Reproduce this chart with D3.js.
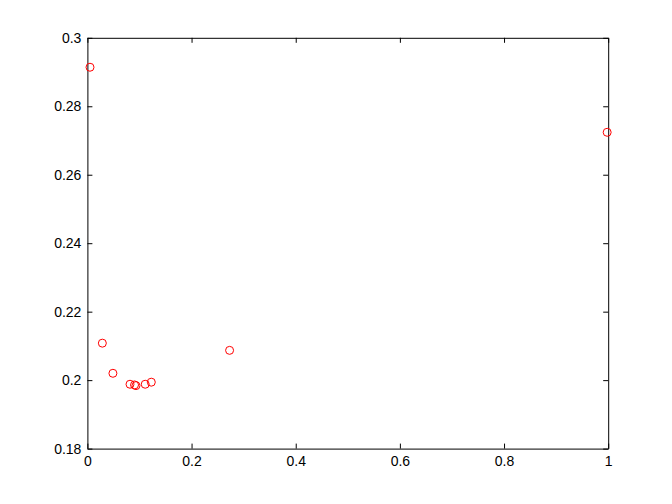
<!DOCTYPE html>
<html><head><meta charset="utf-8">
<script src="https://cdn.jsdelivr.net/npm/d3@7"></script>
<style>body{margin:0;background:#fff}svg{display:block}text{font-family:"Liberation Sans",Arial,sans-serif;font-size:14px}</style>
</head><body><svg id="c" width="672" height="504"></svg>
<script>
const xValues = [0.005, 0.0287, 0.049, 0.0818, 0.0905, 0.0933, 0.111, 0.1227, 0.273, 0.998];
const yValues = [0.2914, 0.2108, 0.2020, 0.1988, 0.1986, 0.1984, 0.1988, 0.1994, 0.2087, 0.2724];
const xTicks = [0, 0.2, 0.4, 0.6, 0.8, 1];
const yTicks = [0.18, 0.2, 0.22, 0.24, 0.26, 0.28, 0.3];
const xTickLabels = ["0", "0.2", "0.4", "0.6", "0.8", "1"];
const yTickLabels = ["0.18", "0.2", "0.22", "0.24", "0.26", "0.28", "0.3"];

const L = 87.4, R = 608.2, T = 37.8, B = 448.6;
const svg = d3.select("#c");
const x = d3.scaleLinear().domain([0, 1]).range([L, R]);
const y = d3.scaleLinear().domain([0.18, 0.3]).range([B, T]);
const tl = 5;

const g = svg.append("g");
g.append("g").attr("transform", `translate(0,${B})`)
  .call(d3.axisBottom(x).tickValues(xTicks).tickFormat((d,i)=>xTickLabels[i]).tickSizeInner(-tl).tickSizeOuter(0).tickPadding(7));
g.append("g").attr("transform", `translate(0,${T})`)
  .call(d3.axisTop(x).tickValues(xTicks).tickFormat("").tickSizeInner(-tl).tickSizeOuter(0));
g.append("g").attr("transform", `translate(${L},0)`)
  .call(d3.axisLeft(y).tickValues(yTicks).tickFormat((d,i)=>yTickLabels[i]).tickSizeInner(-tl).tickSizeOuter(0).tickPadding(6));
g.append("g").attr("transform", `translate(${R},0)`)
  .call(d3.axisRight(y).tickValues(yTicks).tickFormat("").tickSizeInner(-tl).tickSizeOuter(0));
g.selectAll(".domain").attr("stroke", "#000");
g.selectAll(".tick line").attr("stroke", "#000");
g.selectAll(".tick text").attr("fill", "#000").style("font-size", "14px").style("font-family", '"Liberation Sans",Arial,sans-serif');

svg.append("g").selectAll("circle").data(xValues).join("circle")
  .attr("cx", (d) => x(d)).attr("cy", (d, i) => y(yValues[i]))
  .attr("r", 4).attr("fill", "none").attr("stroke", "#ff0000").attr("stroke-width", 1);
</script></body></html>
